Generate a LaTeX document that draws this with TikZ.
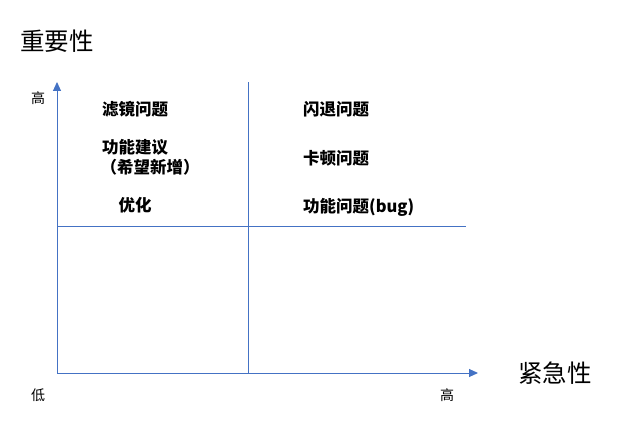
\documentclass[tikz,border=0pt]{standalone}
\usepackage{fontspec}
\usepackage{xcolor}
\usetikzlibrary{arrows.meta, positioning}
\newfontfamily\cjk{Noto Sans CJK SC}
\definecolor{axisblue}{HTML}{4472C4}

\tikzset{
    axis/.style={axisblue, line width=1pt},
    item/.style={font=\cjk\bfseries\fontsize{16.5}{19}\selectfont, inner sep=0pt},
    tick/.style={font=\cjk\fontsize{14}{16}\selectfont, inner sep=0pt},
    title/.style={font=\cjk\fontsize{24.5}{28}\selectfont, inner sep=0pt}
}

\begin{document}
\begin{tikzpicture}[x=1pt, y=1pt]
    \useasboundingbox (0,0) rectangle (637,445);
    % corners of the chart
    \coordinate (o) at (57,72);
    \coordinate (ytop) at (57,363);
    \coordinate (xend) at (478,72);
    \coordinate (vtop) at (248,363);
    \coordinate (vbot) at (248,72);
    \coordinate (hleft) at (57,218);
    \coordinate (hright) at (466,218);
    % axes and dividers
    \draw[axis, -{Triangle[length=9pt, width=8pt]}] (o) -- (ytop);
    \draw[axis, -{Triangle[length=9pt, width=8pt]}] (o) -- (xend);
    \draw[axis] (vbot) -- (vtop);
    \draw[axis] (hleft) -- (hright);
    % axis titles and ends
    \node[title] (imp) at (57,404) {重要性};
    \node[title] (urg) at (555,72) {紧急性};
    \node[tick] (yhigh) at (38,347) {高};
    \node[tick] (low) at (38,50) {低};
    \node[tick] (xhigh) at (447,50) {高};
    % important, not urgent
    \node[item] (filter) at (135,336) {滤镜问题};
    \node[item] (feature) at (135,298) {功能建议};
    \node[item] (wish) at (150,278) {（希望新增）};
    \node[item] (optim) at (135,240) {优化};
    % important and urgent
    \node[item, anchor=west] (crash) at (303,336) {闪退问题};
    \node[item, below=49pt of crash.west, anchor=west] (lag) {卡顿问题};
    \node[item, below=49pt of lag.west, anchor=west] (bug) {功能问题(bug)};
\end{tikzpicture}
\end{document}
